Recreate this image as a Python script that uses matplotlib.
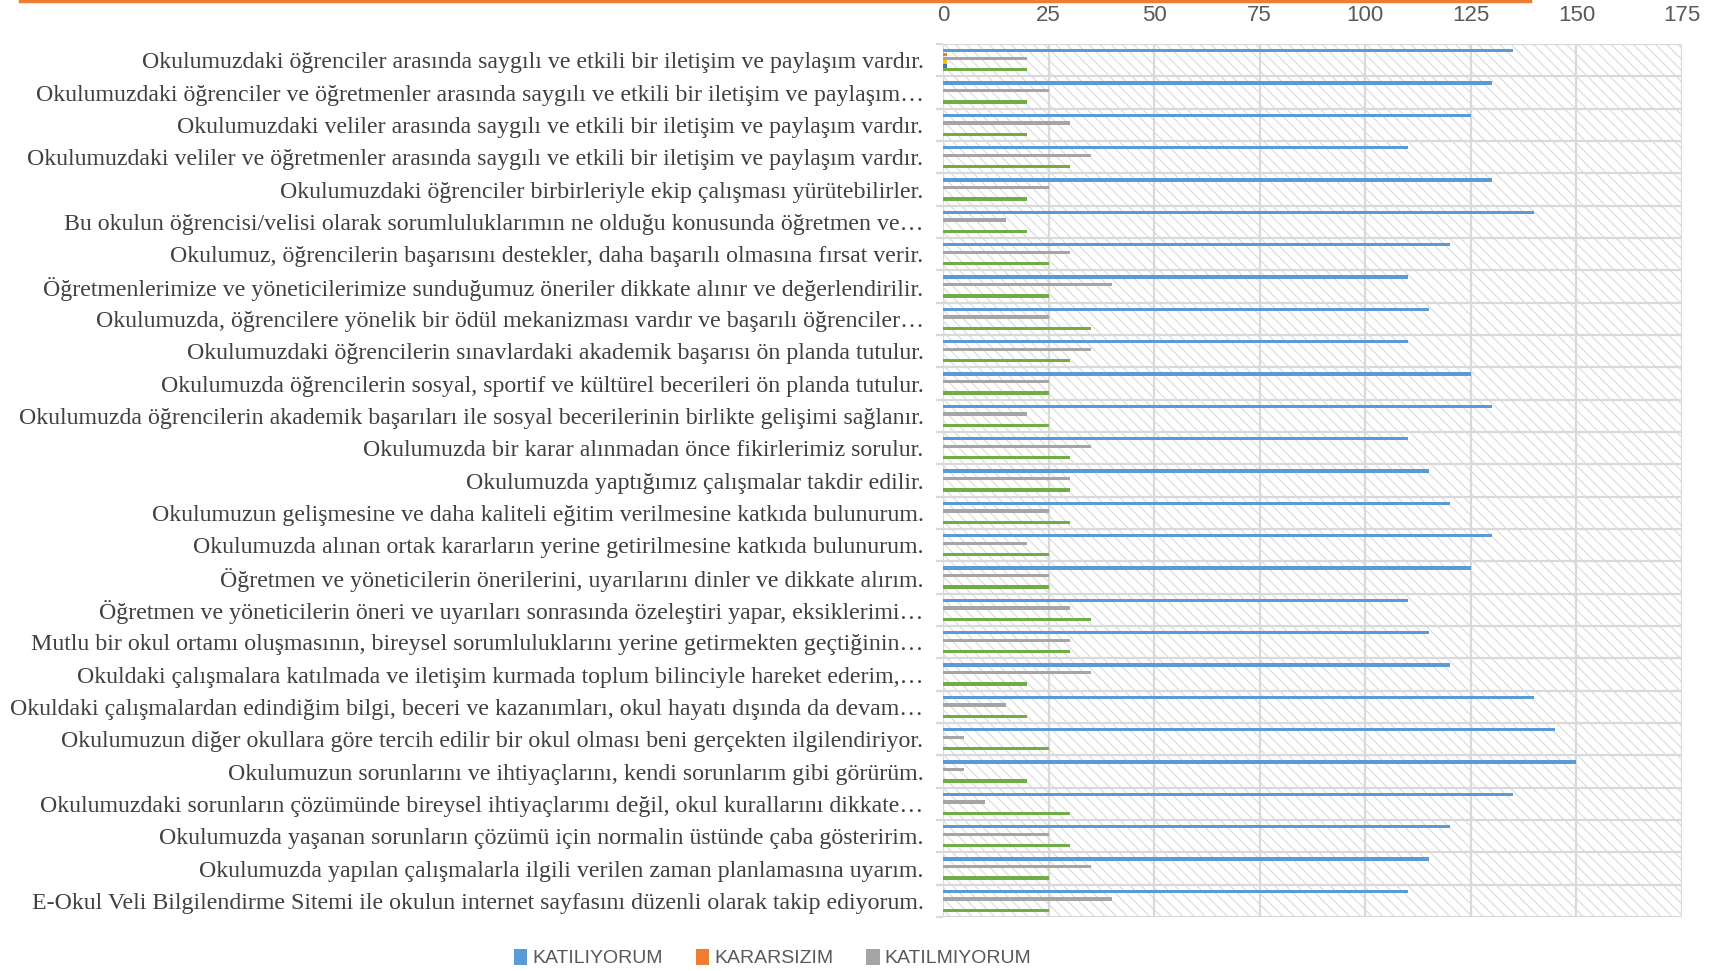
import matplotlib
matplotlib.use('Agg')
import matplotlib.pyplot as plt
import numpy as np
from matplotlib.patches import Rectangle, Patch
from matplotlib.lines import Line2D

plt.rcParams['hatch.linewidth'] = 0.8

sorular = [
    'Okulumuzdaki öğrenciler arasında saygılı ve etkili bir iletişim ve paylaşım vardır.',
    'Okulumuzdaki öğrenciler ve öğretmenler arasında saygılı ve etkili bir iletişim ve paylaşım…',
    'Okulumuzdaki veliler arasında saygılı ve etkili bir iletişim ve paylaşım vardır.',
    'Okulumuzdaki veliler ve öğretmenler arasında saygılı ve etkili bir iletişim ve paylaşım vardır.',
    'Okulumuzdaki öğrenciler birbirleriyle ekip çalışması yürütebilirler.',
    'Bu okulun öğrencisi/velisi olarak sorumluluklarımın ne olduğu konusunda öğretmen ve…',
    'Okulumuz, öğrencilerin başarısını destekler, daha başarılı olmasına fırsat verir.',
    'Öğretmenlerimize ve yöneticilerimize sunduğumuz öneriler dikkate alınır ve değerlendirilir.',
    'Okulumuzda, öğrencilere yönelik bir ödül mekanizması vardır ve başarılı öğrenciler…',
    'Okulumuzdaki öğrencilerin sınavlardaki akademik başarısı ön planda tutulur.',
    'Okulumuzda öğrencilerin sosyal, sportif ve kültürel becerileri ön planda tutulur.',
    'Okulumuzda öğrencilerin akademik başarıları ile sosyal becerilerinin birlikte gelişimi sağlanır.',
    'Okulumuzda bir karar alınmadan önce fikirlerimiz sorulur.',
    'Okulumuzda yaptığımız çalışmalar takdir edilir.',
    'Okulumuzun gelişmesine ve daha kaliteli eğitim verilmesine katkıda bulunurum.',
    'Okulumuzda alınan ortak kararların yerine getirilmesine katkıda bulunurum.',
    'Öğretmen ve yöneticilerin önerilerini, uyarılarını dinler ve dikkate alırım.',
    'Öğretmen ve yöneticilerin öneri ve uyarıları sonrasında özeleştiri yapar, eksiklerimi…',
    'Mutlu bir okul ortamı oluşmasının, bireysel sorumluluklarını yerine getirmekten geçtiğinin…',
    'Okuldaki çalışmalara katılmada ve iletişim kurmada toplum bilinciyle hareket ederim,…',
    'Okuldaki çalışmalardan edindiğim bilgi, beceri ve kazanımları, okul hayatı dışında da devam…',
    'Okulumuzun diğer okullara göre tercih edilir bir okul olması beni gerçekten ilgilendiriyor.',
    'Okulumuzun sorunlarını ve ihtiyaçlarını, kendi sorunlarım gibi görürüm.',
    'Okulumuzdaki sorunların çözümünde bireysel ihtiyaçlarımı değil, okul kurallarını dikkate…',
    'Okulumuzda yaşanan sorunların çözümü için normalin üstünde çaba gösteririm.',
    'Okulumuzda yapılan çalışmalarla ilgili verilen zaman planlamasına uyarım.',
    'E-Okul Veli Bilgilendirme Sitemi ile okulun internet sayfasını düzenli olarak takip ediyorum.',
]

katiliyorum = [135, 130, 125, 110, 130, 140, 120, 110, 115, 110, 125, 130, 110, 115,
               120, 130, 125, 110, 115, 120, 140, 145, 150, 135, 120, 115, 110]
kararsizim = [1] + [0] * 26
katilmiyorum = [20, 25, 30, 35, 25, 15, 30, 40, 25, 35, 25, 20, 35, 30,
                25, 20, 25, 30, 30, 35, 15, 5, 5, 10, 25, 35, 40]
seri4 = [1] + [0] * 26
seri5 = [1] + [0] * 26
seri6 = [20, 20, 20, 30, 20, 20, 25, 25, 35, 30, 25, 25, 30, 30,
         30, 25, 25, 35, 30, 20, 20, 25, 20, 30, 30, 25, 25]

seriler = [katiliyorum, kararsizim, katilmiyorum, seri4, seri5, seri6]
isimler = ['KATILIYORUM', 'KARARSIZIM', 'KATILMIYORUM', '', '', '']
renkler = ['#5b9bd5', '#ed7d31', '#a5a5a5', '#ffc000', '#4472c4', '#70ad47']
xticks = [0, 25, 50, 75, 100, 125, 150, 175]

fig = plt.figure(figsize=(17.28, 9.71), dpi=100)
ax = fig.add_axes([943 / 1728, 1 - 917 / 971, (1682 - 943) / 1728, (917 - 44) / 971])

# hatched plot area
ax.add_patch(Rectangle((0, 0), 1, 1, transform=ax.transAxes, facecolor='white',
                       edgecolor='#dadada', hatch='\\\\\\', linewidth=0, zorder=0.1))

y = np.arange(len(sorular))
slot = 0.118
for k, (vals, c) in enumerate(zip(seriler, renkler)):
    ax.barh(y + (k - 2.5) * slot, vals, height=0.105, color=c, zorder=3)

ax.set_xlim(0, 175)
ax.set_ylim(len(sorular) - 0.5, -0.5)

for b in np.arange(-0.5, len(sorular), 1.0):
    ax.axhline(b, color='#d9d9d9', lw=1.6, zorder=1)
for xv in xticks:
    ax.axvline(xv, color='#d9d9d9', lw=1.6, zorder=1)

for s in ax.spines.values():
    s.set_visible(False)

ax.xaxis.tick_top()
ax.set_xticks(xticks)
ax.set_xticklabels([str(v) for v in xticks], family=['Liberation Sans Narrow', 'Liberation Sans'],
                   fontsize=16, color='#595959')
ax.tick_params(axis='x', length=0, pad=13)

ax.set_yticks(y)
ax.set_yticklabels(sorular, family='Liberation Serif', fontsize=17.2, color='#404040')
ax.set_yticks(np.arange(-0.5, len(sorular), 1.0), minor=True)
ax.tick_params(axis='y', which='major', length=0, pad=14)
ax.tick_params(axis='y', which='minor', length=5, width=1.6, color='#d9d9d9')

handles = [Patch(facecolor=renkler[i], edgecolor='none') for i in range(3)]
leg = fig.legend(handles, isimler[:3], loc='center left', ncol=3,
                 bbox_to_anchor=(496 / 1728, 1 - 958 / 971), frameon=False,
                 handlelength=0.7, handleheight=0.9, handletextpad=0.25, columnspacing=1.7,
                 prop={'family': ['Liberation Sans Narrow', 'Liberation Sans'], 'size': 14})
for t in leg.get_texts():
    t.set_color('#595959')

# orange line along the top edge
fig.add_artist(Line2D([20 / 1728, 1530 / 1728], [0.999, 0.999], color='#ed7d31', lw=2.5))

fig.savefig('out.png', dpi=100)
